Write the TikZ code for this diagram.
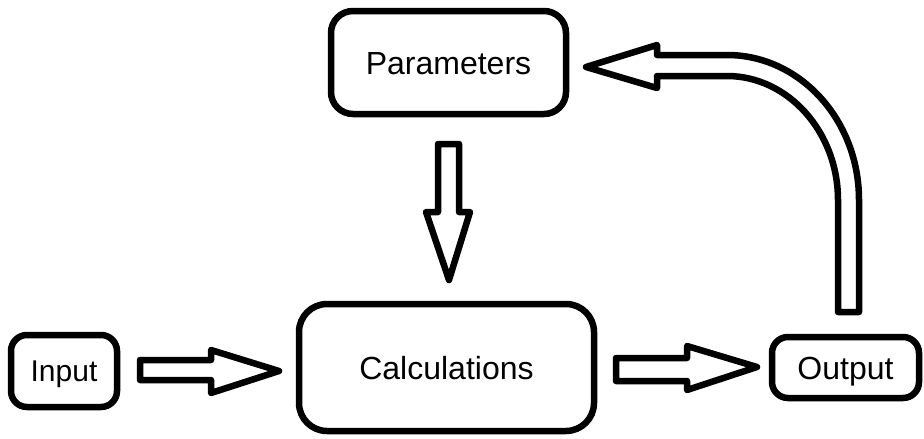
\documentclass[tikz,border=0pt]{standalone}
\usepackage{fontspec}
\setmainfont{Liberation Sans}
\begin{document}
\begin{tikzpicture}[x=1pt,y=-1pt,
  box/.style={draw=black,line width=6.5pt,fill=white,inner sep=0pt,
    font=\fontsize{32}{38}\selectfont,text height=23pt,text depth=0pt},
  blockarrow/.style={draw=black,line width=6.5pt,line join=round,fill=white}]
\useasboundingbox (0,0) rectangle (924,439);
\node[box,rounded corners=22pt,minimum width=235pt,minimum height=103pt] (par) at (448.5,62.5) {Parameters};
\node[box,rounded corners=28pt,minimum width=295pt,minimum height=127pt] (calc) at (446.5,367.5) {Calculations};
\node[box,rounded corners=16pt,minimum width=106pt,minimum height=72pt,font=\fontsize{30}{36}\selectfont,text height=21.5pt] (in) at (64,371) {Input};
\node[box,rounded corners=16pt,minimum width=147pt,minimum height=61pt] (out) at (845.5,367.5) {Output};
% Parameters -> Calculations
\draw[blockarrow] (438,144) -- (459,144) -- (459,212) -- (470,212) -- (449,280) -- (426,212) -- (438,212) -- cycle;
% Input -> Calculations
\draw[blockarrow] (140,360) -- (211,360) -- (211,350) -- (279,371) -- (211,393) -- (211,380) -- (140,380) -- cycle;
% Calculations -> Output
\draw[blockarrow] (616,358) -- (687,358) -- (687,346) -- (757,367) -- (687,390) -- (687,381) -- (616,381) -- cycle;
% Output -> Parameters
\draw[blockarrow] (586,67) -- (657,45) -- (657,55) -- (727,55)
  .. controls (800,55) and (859,120) .. (859,200) -- (859,312) -- (838,312) -- (838,200)
  .. controls (838,132) and (788,76) .. (727,76) -- (657,76) -- (657,88) -- cycle;
\end{tikzpicture}
\end{document}
